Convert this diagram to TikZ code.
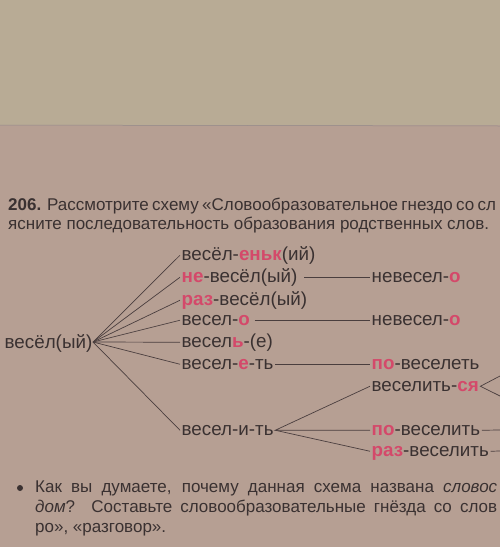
\documentclass[tikz,border=0pt]{standalone}
\usepackage{fontspec}
\setmainfont{Liberation Sans}
\definecolor{bgtop}{HTML}{B8AB95}
\definecolor{bgpage}{HTML}{B69F93}
\definecolor{ink}{HTML}{3A3131}
\definecolor{accent}{HTML}{D4496A}
\definecolor{wire}{HTML}{4A3E3E}
\newcommand{\rd}[1]{\textcolor{accent}{\textbf{#1}}}
\tikzset{
  word/.style={anchor=base west, inner sep=1.5pt, text height=13.5pt, text depth=4pt, font=\fontsize{18.8}{22}\selectfont, text=ink},
  para/.style={anchor=base west, inner sep=0pt, font=\fontsize{17}{20}\selectfont, text=ink},
  wireline/.style={draw=wire, line width=0.7pt}
}
\begin{document}
\begin{tikzpicture}[x=1pt,y=-1pt]
\useasboundingbox (0,0) rectangle (500,547);
\clip (0,0) rectangle (500,547);
\fill[bgtop] (0,0) rectangle (500,125);
\fill[bgpage] (0,125) rectangle (500,547);
\draw[wire!60, line width=0.5pt] (0,125) -- (500,126);
% header
\node[para] (h1) at (8,210) {\makebox[488pt][s]{\textbf{206.} Рассмотрите схему «Словообразовательное гнездо со сл}};
\node[para] (h2) at (8,229.5) {ясните последовательность образования родственных слов.};
% diagram
\node[word] (root) at (3,348) {весёл(ый)};
\coordinate (hub) at (93,342);
\node[word] (w1) at (180,260) {весёл-\rd{еньк}(ий)};
\node[word] (w2) at (180,282) {\rd{не}-весёл(ый)};
\node[word] (w3) at (180,305) {\rd{раз}-весёл(ый)};
\node[word] (w4) at (180,325) {весел-\rd{о}};
\node[word] (w5) at (180,347) {весел\rd{ь}-(е)};
\node[word] (w6) at (180,369) {весел-\rd{е}-ть};
\node[word] (w7) at (180,435) {весел-и-ть};
\node[word] (r2) at (370,282) {невесел-\rd{о}};
\node[word] (r4) at (370,325) {невесел-\rd{о}};
\node[word] (r6) at (370,369) {\rd{по}-веселеть};
\node[word] (r7) at (370,391) {веселить-\rd{ся}};
\node[word] (r8) at (370,435) {\rd{по}-веселить};
\node[word] (r9) at (370,456) {\rd{раз}-веселить};
\coordinate (e1) at (500,376);
\coordinate (e2) at (500,396);
\coordinate (e3) at (500,430);
\coordinate (e4) at (500,451);
\foreach \w in {w1,w2,w3,w4,w5,w6,w7} \draw[wireline] (hub) -- (\w.west);
\draw[wireline] (w2.east) ++(5,0) -- (r2.west);
\draw[wireline] (w4.east) ++(3,0) -- (r4.west);
\draw[wireline] (w6.east) -- (r6.west);
\draw[wireline] (r7.west) -- (w7.east) -- (r8.west);
\draw[wireline] (w7.east) -- (r9.west);
\draw[wireline] (e1) -- (r7.east) -- (e2);
\draw[wireline] (r8.east) -- (e3);
\draw[wireline] (r9.east) -- (e4);
% question
\fill[ink] (20,488) circle (3);
\node[para] (q1) at (35,492.5) {\makebox[462pt][s]{Как вы думаете, почему данная схема названа \textit{словос}}};
\node[para] (q2) at (35,512.5) {\makebox[462pt][s]{\textit{дом}? Составьте словообразовательные гнёзда со слов}};
\node[para] (q3) at (35,532) {ро», «разговор».};
\end{tikzpicture}
\end{document}
